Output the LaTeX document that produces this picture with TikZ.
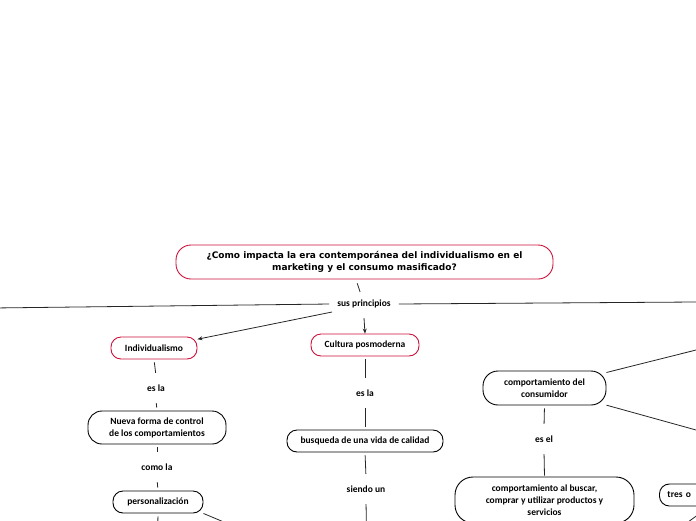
\documentclass[tikz,border=0pt]{standalone}
\usepackage{fontspec}
\setmainfont{Carlito}
\newfontfamily\rootfont{DejaVu Sans}
\usetikzlibrary{arrows.meta,calc}
\definecolor{mmred}{RGB}{204,16,58}
\begin{document}
\begin{tikzpicture}[x=1pt,y=-1pt,
 box/.style={draw=black, line width=0.9pt, rounded corners=10pt, font=\bfseries\fontsize{9.5}{12}\selectfont, align=center, inner sep=0pt},
 redbox/.style={box, draw=mmred},
 lbl/.style={font=\bfseries\fontsize{9.5}{12}\selectfont, inner xsep=7pt, inner ysep=0pt, minimum height=24pt},
 link/.style={draw=black!85, line width=0.8pt, shorten <=3pt, shorten >=3pt},
 arr/.style={draw=black!85, line width=0.8pt, shorten <=0pt, -{Stealth[length=5pt,width=4pt]}}
]
\useasboundingbox (0,0) rectangle (696,520);
\clip (0,0) rectangle (696,520);

% nodes
\node[redbox, rounded corners=15pt, minimum width=377pt, minimum height=34pt, font=\rootfont\bfseries\fontsize{9}{12}\selectfont] (root) at (364.5,262)
 {¿Como impacta la era contemporánea del individualismo en el\\marketing y el consumo masificado?};
\node[lbl] (sus) at (364,304) {sus principios};

\node[redbox, minimum width=86pt, minimum height=22pt] (ind) at (154,348) {Individualismo};
\node[lbl] (esla1) at (156,388) {es la};
\node[box, rounded corners=14pt, minimum width=138pt, minimum height=33pt] (nueva) at (157,427.5) {Nueva forma de control\\de los comportamientos};
\node[lbl] (como) at (157,467) {como la};
\node[box, minimum width=90pt, minimum height=22pt] (pers) at (158,502) {personalización};

\node[redbox, minimum width=108pt, minimum height=22pt] (cult) at (365,345) {Cultura posmoderna};
\node[lbl] (esla2) at (365,393) {es la};
\node[box, minimum width=156pt, minimum height=22pt] (busq) at (365,441) {busqueda de una vida de calidad};
\node[lbl] (siendo) at (366,489) {siendo un};

\node[box, rounded corners=15pt, minimum width=123pt, minimum height=34pt] (comp) at (544.5,388) {comportamiento del\\consumidor};
\node[lbl] (esel) at (544,439) {es el};
\node[box, rounded corners=18pt, minimum width=179pt, minimum height=46pt] (compbus) at (544.5,500)
 {comportamiento al buscar,\\comprar y utilizar productos y\\servicios};
\node[box, anchor=west, minimum width=100pt, minimum height=22pt, text width=84pt, align=left] (tres) at (659,495) {tres o};

% free ends
\coordinate (offL) at (-100,309.1);
\coordinate (offR) at (800,301.3);
\coordinate (pbelow) at (157,560);
\coordinate (prt) at (250,533);
\coordinate (sbelow) at (367,560);
\coordinate (cur) at (847.5,312);
\coordinate (clr) at (847.5,472);
\coordinate (tdown) at (668.8,536);

% connectors
\draw[link, shorten <=4pt, shorten >=12.6pt] ([xshift=-8.5pt]root.south) -- (sus.center);
\draw[link, shorten <=1pt, shorten >=0pt] (sus.west) -- (offL);
\draw[link, shorten <=1pt, shorten >=0pt] (sus.east) -- (offR);
\draw[arr] ($(sus.center)+(-32,8)$) -- (ind);
\draw[arr] ($(sus.center)+(0,14)$) -- (cult.north);

\draw[link] (ind.south) -- (esla1.north);
\draw[link] (esla1.south) -- (nueva.north);
\draw[link] (nueva.south) -- (como.north);
\draw[link] (como.south) -- (pers.north);
\draw[link, shorten >=0pt] (pers.south) -- (pbelow);
\draw[link, shorten <=0pt, shorten >=0pt] (pers.south east) -- (prt);

\draw[link] (cult.south) -- (esla2.north);
\draw[link] (esla2.south) -- (busq.north);
\draw[link] (busq.south) -- (siendo.north);
\draw[link, shorten >=0pt] (siendo.south) -- (sbelow);

\draw[link, shorten <=0pt, shorten >=0pt] (comp) -- (cur);
\draw[link, shorten <=0pt, shorten >=0pt] (comp) -- (clr);
\draw[link] (comp.south) -- (esel.north);
\draw[link, shorten >=1pt] (esel.south) -- (compbus.north);
\draw[link, shorten >=0pt] (tres.south) -- (tdown);
\end{tikzpicture}
\end{document}
